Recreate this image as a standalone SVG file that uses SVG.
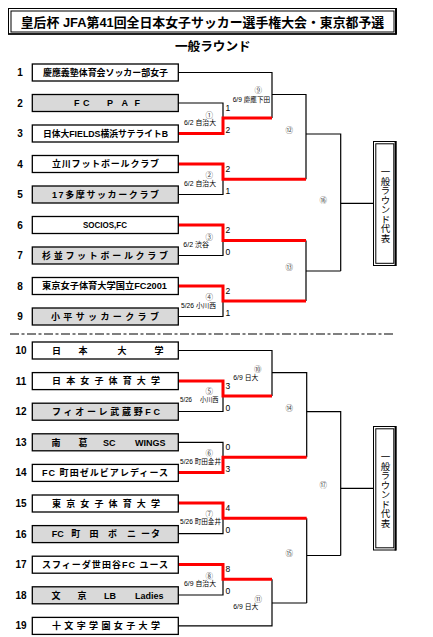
<svg xmlns="http://www.w3.org/2000/svg" width="433" height="637" viewBox="0 0 433 637">
<style>
text{font-family:"Liberation Sans","Noto Sans CJK JP",sans-serif;fill:#000}
.box{stroke:#000;stroke-width:1.3;fill:#fff}
.g{fill:#d9d9d9}
.tm{font-size:9px;font-weight:bold}
.num{font-size:10px;font-weight:bold;text-anchor:middle}
.ln{fill:none;stroke:#000;stroke-width:1.2}
.rd{fill:none;stroke:#ff0000;stroke-width:3}
.sc{font-size:8.5px}
.cn{font-size:7.5px;fill:#444;text-anchor:middle}
.dt{font-size:6.5px}
.rep{font-size:9.5px;writing-mode:vertical-rl;text-anchor:middle}
</style>
<rect width="433" height="637" fill="#fff"/>
<g id="title">
<rect x="8.5" y="8.5" width="387.5" height="25.5" fill="none" stroke="#000" stroke-width="1"/>
<rect x="11" y="11" width="383" height="21" fill="none" stroke="#000" stroke-width="1"/>
<line x1="396" y1="8" x2="396" y2="34.5" stroke="#000" stroke-width="2"/>
<line x1="8" y1="34" x2="396.5" y2="34" stroke="#000" stroke-width="1.5"/>
<text x="20.7" y="27" font-size="13" font-weight="bold" textLength="363.5" lengthAdjust="spacingAndGlyphs">皇后杯 JFA第41回全日本女子サッカー選手権大会・東京都予選</text>
<text x="175" y="51" font-size="12.5" font-weight="bold" textLength="75.7" lengthAdjust="spacingAndGlyphs">一般ラウンド</text>
</g>
<g id="divider"><line x1="10" y1="334" x2="395" y2="334" stroke="#000" stroke-width="1.2" stroke-dasharray="9 2.5 3 2.5"/></g>
<g id="connectors">
<path class="ln" d="M178,72.5H272V118"/>
<path class="ln" d="M178,103H223V118"/>
<path class="ln" d="M272,94.5H306V179.3"/>
<path class="ln" d="M178,194.5H223V179.3"/>
<path class="ln" d="M306,134H340.7V271"/>
<path class="ln" d="M178,255.5H223V240.5"/>
<path class="ln" d="M306,240.5V301M306,271H340.7"/>
<path class="ln" d="M178,316.5H223V301"/>
<path class="ln" d="M340.7,203.3H373.3"/>
<path class="rd" d="M178,133.5H223V118H272"/>
<path class="rd" d="M178,164H223V179.3H306"/>
<path class="rd" d="M178,225H223V240.5H306"/>
<path class="rd" d="M178,286H223V301H306"/>
<path class="ln" d="M178,350.5H272V396"/>
<path class="ln" d="M178,411.5H223V396"/>
<path class="ln" d="M272,372.7H306.7V457.3"/>
<path class="ln" d="M178,442.3H223V457.3"/>
<path class="ln" d="M306.7,411.7H340.7V555.5"/>
<path class="ln" d="M178,533.7H223V518.3"/>
<path class="ln" d="M306.7,518.3V603M306.7,555.5H340.7"/>
<path class="ln" d="M178,595H223V579.3"/>
<path class="ln" d="M178,625.8H272V579.3"/>
<path class="ln" d="M272,603H306.7"/>
<path class="ln" d="M340.7,488.3H373.3"/>
<path class="rd" d="M178,381H223V396H272"/>
<path class="rd" d="M178,472.5H223V457.3H306.7"/>
<path class="rd" d="M178,503H223V518.3H306.7"/>
<path class="rd" d="M178,564.5H223V579.3H272"/>
</g>
<g id="match-labels">
<text class="sc" x="225.5" y="111.3">1</text><text class="sc" x="225.5" y="133">2</text>
<text class="sc" x="225.5" y="172.3">2</text><text class="sc" x="225.5" y="194">1</text>
<text class="sc" x="225.5" y="233">2</text><text class="sc" x="225.5" y="255.3">0</text>
<text class="sc" x="225.5" y="294">2</text><text class="sc" x="225.5" y="316.3">1</text>
<text class="sc" x="225.5" y="389">3</text><text class="sc" x="225.5" y="410.7">0</text>
<text class="sc" x="225.5" y="450.3">0</text><text class="sc" x="225.5" y="472.3">3</text>
<text class="sc" x="225.5" y="511.3">4</text><text class="sc" x="225.5" y="533">0</text>
<text class="sc" x="225.5" y="572.3">8</text><text class="sc" x="225.5" y="594">0</text>
<text class="cn" x="209.3" y="117.8">①</text><text class="dt" x="184" y="125.2" textLength="32" lengthAdjust="spacingAndGlyphs">6/2 自治大</text>
<text class="cn" x="209.3" y="178.1">②</text><text class="dt" x="184" y="185.8" textLength="32" lengthAdjust="spacingAndGlyphs">6/2 自治大</text>
<text class="cn" x="209.3" y="239.8">③</text><text class="dt" x="183.3" y="246.8" textLength="25.7" lengthAdjust="spacingAndGlyphs">6/2 渋谷</text>
<text class="cn" x="209.3" y="299.8">④</text><text class="dt" x="181" y="308.2" textLength="35" lengthAdjust="spacingAndGlyphs">5/26 小川西</text>
<text class="cn" x="209.3" y="394.4">⑤</text><text class="dt" x="180" y="401.8" textLength="12" lengthAdjust="spacingAndGlyphs">5/26</text><text class="dt" x="200" y="401.8" textLength="18.5" lengthAdjust="spacingAndGlyphs">小川西</text>
<text class="cn" x="209.3" y="456">⑥</text><text class="dt" x="180" y="463.5" textLength="41" lengthAdjust="spacingAndGlyphs">5/26 町田金井</text>
<text class="cn" x="209.3" y="516.8">⑦</text><text class="dt" x="180" y="524.4" textLength="41" lengthAdjust="spacingAndGlyphs">5/26 町田金井</text>
<text class="cn" x="209.3" y="578.5">⑧</text><text class="dt" x="184" y="586" textLength="32" lengthAdjust="spacingAndGlyphs">6/9 自治大</text>
<text class="cn" x="258.3" y="93.3">⑨</text><text class="dt" x="232.7" y="101.8" textLength="37.5" lengthAdjust="spacingAndGlyphs">6/9 慶應下田</text>
<text class="cn" x="257.7" y="371.6">⑩</text><text class="dt" x="233.3" y="380.2" textLength="25" lengthAdjust="spacingAndGlyphs">6/9 日大</text>
<text class="cn" x="258.3" y="601.6">⑪</text><text class="dt" x="233.3" y="609.2" textLength="25" lengthAdjust="spacingAndGlyphs">6/9 日大</text>
<text class="cn" x="289.3" y="133">⑫</text>
<text class="cn" x="289.3" y="270.3">⑬</text>
<text class="cn" x="323.3" y="203">⑯</text>
<text class="cn" x="289.3" y="410.7">⑭</text>
<text class="cn" x="289.3" y="555.7">⑮</text>
<text class="cn" x="323.3" y="488">⑰</text>
</g>
<g id="rep-upper">
<rect x="373.5" y="141.5" width="22.5" height="124" fill="#fff" stroke="#000" stroke-width="1"/>
<rect x="375.8" y="143.8" width="18" height="119.5" fill="none" stroke="#000" stroke-width="1"/>
<line x1="395.5" y1="141" x2="395.5" y2="266" stroke="#000" stroke-width="1.8"/>
<text class="rep" x="385" y="205">一般ラウンド代表</text>
</g>
<g id="rep-lower">
<rect x="373.5" y="426.5" width="22.5" height="123.5" fill="#fff" stroke="#000" stroke-width="1"/>
<rect x="375.8" y="428.8" width="18" height="119" fill="none" stroke="#000" stroke-width="1"/>
<line x1="395.5" y1="426" x2="395.5" y2="550.5" stroke="#000" stroke-width="1.8"/>
<text class="rep" x="385" y="490">一般ラウンド代表</text>
</g>
<g id="team-1"><text class="num" x="20" y="76">1</text><rect class="box" x="32.3" y="64" width="146" height="17"/><text class="tm" x="43" y="75.8" textLength="125" lengthAdjust="spacingAndGlyphs">慶應義塾体育会ソッカー部女子</text></g>
<g id="team-2"><text class="num" x="20" y="106.5">2</text><rect class="box g" x="32.3" y="94.5" width="146" height="17"/><text class="tm" y="106.3"><tspan x="74">F</tspan><tspan x="83">C</tspan><tspan x="107">P</tspan><tspan x="121.5">A</tspan><tspan x="134.5">F</tspan></text></g>
<g id="team-3"><text class="num" x="20" y="137">3</text><rect class="box" x="32.3" y="125" width="146" height="17"/><text class="tm" x="43" y="136.8" textLength="125" lengthAdjust="spacingAndGlyphs">日体大FIELDS横浜サテライトB</text></g>
<g id="team-4"><text class="num" x="20" y="167.5">4</text><rect class="box" x="32.3" y="155.5" width="146" height="17"/><text class="tm" x="52" y="167.3" textLength="107" lengthAdjust="spacing">立川フットボールクラブ</text></g>
<g id="team-5"><text class="num" x="20" y="198">5</text><rect class="box g" x="32.3" y="186" width="146" height="17"/><text class="tm" x="52" y="197.8" textLength="107" lengthAdjust="spacing">17多摩サッカークラブ</text></g>
<g id="team-6"><text class="num" x="20" y="228.5">6</text><rect class="box" x="32.3" y="216.5" width="146" height="17"/><text class="tm" x="83" y="228.3" textLength="44" lengthAdjust="spacingAndGlyphs">SOCIOS,FC</text></g>
<g id="team-7"><text class="num" x="20" y="259">7</text><rect class="box g" x="32.3" y="247" width="146" height="17"/><text class="tm" x="42" y="258.8" textLength="126" lengthAdjust="spacing">杉並フットボールクラブ</text></g>
<g id="team-8"><text class="num" x="20" y="289.5">8</text><rect class="box" x="32.3" y="277.5" width="146" height="17"/><text class="tm" x="42" y="289.3" textLength="125" lengthAdjust="spacingAndGlyphs">東京女子体育大学国立FC2001</text></g>
<g id="team-9"><text class="num" x="20" y="320">9</text><rect class="box g" x="32.3" y="308" width="146" height="17"/><text class="tm" x="51" y="319.8" textLength="108" lengthAdjust="spacing">小平サッカークラブ</text></g>
<g id="team-10"><text class="num" x="21" y="354">10</text><rect class="box" x="32.3" y="342" width="146" height="17"/><text class="tm" y="353.8"><tspan x="52">日</tspan><tspan x="78.5">本</tspan><tspan x="117.5">大</tspan><tspan x="154.5">学</tspan></text></g>
<g id="team-11"><text class="num" x="21" y="384.6">11</text><rect class="box" x="32.3" y="372.6" width="146" height="17"/><text class="tm" x="52" y="384.4" textLength="108" lengthAdjust="spacing">日本女子体育大学</text></g>
<g id="team-12"><text class="num" x="21" y="415.2">12</text><rect class="box g" x="32.3" y="403.2" width="146" height="17"/><text class="tm" x="52" y="415" textLength="108" lengthAdjust="spacing">フィオーレ武蔵野FC</text></g>
<g id="team-13"><text class="num" x="21" y="445.8">13</text><rect class="box g" x="32.3" y="433.8" width="146" height="17"/><text class="tm" y="445.6"><tspan x="51.5">南</tspan><tspan x="78.5">葛</tspan><tspan x="103">SC</tspan><tspan x="135">WINGS</tspan></text></g>
<g id="team-14"><text class="num" x="21" y="476.4">14</text><rect class="box" x="32.3" y="464.4" width="146" height="17"/><text class="tm" x="42" y="476.2" textLength="126" lengthAdjust="spacing">FC 町田ゼルビアレディース</text></g>
<g id="team-15"><text class="num" x="21" y="507">15</text><rect class="box" x="32.3" y="495" width="146" height="17"/><text class="tm" x="52" y="506.8" textLength="108" lengthAdjust="spacing">東京女子体育大学</text></g>
<g id="team-16"><text class="num" x="21" y="537.6">16</text><rect class="box g" x="32.3" y="525.6" width="146" height="17"/><text class="tm" y="537.4"><tspan x="51.7">FC</tspan><tspan x="71.2">町</tspan><tspan x="89.5">田</tspan><tspan x="108">ボ</tspan><tspan x="127">ニ</tspan><tspan x="141">ー</tspan><tspan x="151">タ</tspan></text></g>
<g id="team-17"><text class="num" x="21" y="568.2">17</text><rect class="box" x="32.3" y="556.2" width="146" height="17"/><text class="tm" x="42" y="568" textLength="126" lengthAdjust="spacing">スフィーダ世田谷FC ユース</text></g>
<g id="team-18"><text class="num" x="21" y="598.8">18</text><rect class="box g" x="32.3" y="586.8" width="146" height="17"/><text class="tm" y="598.6"><tspan x="51.5">文</tspan><tspan x="77.5">京</tspan><tspan x="104">LB</tspan><tspan x="135">Ladies</tspan></text></g>
<g id="team-19"><text class="num" x="21" y="629.4">19</text><rect class="box" x="32.3" y="617.4" width="146" height="17"/><text class="tm" x="52" y="629.2" textLength="108" lengthAdjust="spacing">十文字学園女子大学</text></g>
</svg>
